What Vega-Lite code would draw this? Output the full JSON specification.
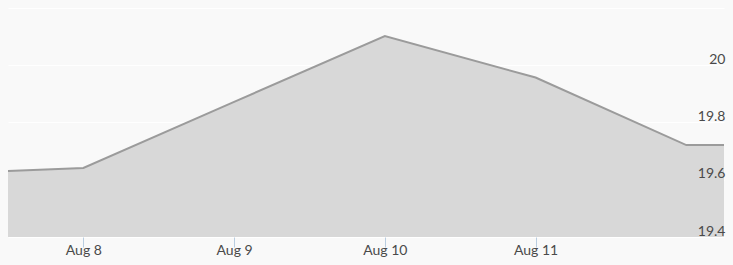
{
  "$schema": "https://vega.github.io/schema/vega-lite/v6.json",
  "width": 716,
  "height": 229,
  "autosize": "none",
  "padding": {"left": 8, "top": 8, "right": 9, "bottom": 28},
  "background": "#f9f9f9",
  "config": {
    "view": {"stroke": null},
    "font": "Lato"
  },
  "data": {
    "values": [
      {"date": "2023-08-07T12:00:00", "value": 19.631},
      {"date": "2023-08-08T00:00:00", "value": 19.641},
      {"date": "2023-08-09T00:00:00", "value": 19.872},
      {"date": "2023-08-10T00:00:00", "value": 20.102},
      {"date": "2023-08-11T00:00:00", "value": 19.957},
      {"date": "2023-08-12T00:00:00", "value": 19.721},
      {"date": "2023-08-12T06:00:00", "value": 19.721}
    ]
  },
  "encoding": {
    "x": {
      "field": "date",
      "type": "temporal",
      "scale": {
        "domain": [
          {"year": 2023, "month": 8, "date": 7, "hours": 12},
          {"year": 2023, "month": 8, "date": 12, "hours": 6}
        ],
        "nice": false
      },
      "axis": {
        "title": null,
        "values": [
          {"year": 2023, "month": 8, "date": 8},
          {"year": 2023, "month": 8, "date": 9},
          {"year": 2023, "month": 8, "date": 10},
          {"year": 2023, "month": 8, "date": 11}
        ],
        "format": "%b %-d",
        "grid": false,
        "domain": false,
        "tickSize": 10,
        "tickColor": "#b9cde0",
        "tickWidth": 1,
        "labelPadding": -4,
        "labelBaseline": "top",
        "labelFontSize": 14,
        "labelColor": "#4a4a4a",
        "labelFont": "Lato"
      }
    }
  },
  "layer": [
    {
      "mark": {
        "type": "area",
        "color": "#d8d8d8",
        "opacity": 1,
        "fillOpacity": 1,
        "clip": true
      },
      "encoding": {
        "y": {
          "field": "value",
          "type": "quantitative",
          "scale": {"domain": [19.4, 20.2], "nice": false, "zero": false},
          "axis": {
            "title": null,
            "orient": "right",
            "values": [19.4, 19.6, 19.8, 20, 20.2],
            "grid": true,
            "gridColor": "#ffffff",
            "gridWidth": 1,
            "domain": false,
            "ticks": false,
            "labels": false,
            "zindex": 0
          }
        }
      }
    },
    {
      "mark": {
        "type": "line",
        "color": "#9b9b9b",
        "strokeWidth": 2,
        "clip": true
      },
      "encoding": {
        "y": {
          "field": "value",
          "type": "quantitative",
          "axis": {
            "title": null,
            "orient": "right",
            "values": [19.4, 19.6, 19.8, 20],
            "format": "~g",
            "grid": false,
            "domain": false,
            "ticks": false,
            "labelAlign": "right",
            "labelBaseline": "alphabetic",
            "labelPadding": 1,
            "labelOffset": -2,
            "labelFontSize": 14,
            "labelColor": "#4a4a4a",
            "labelFont": "Lato",
            "zindex": 2
          }
        }
      }
    }
  ],
  "resolve": {"axis": {"y": "independent"}}
}
